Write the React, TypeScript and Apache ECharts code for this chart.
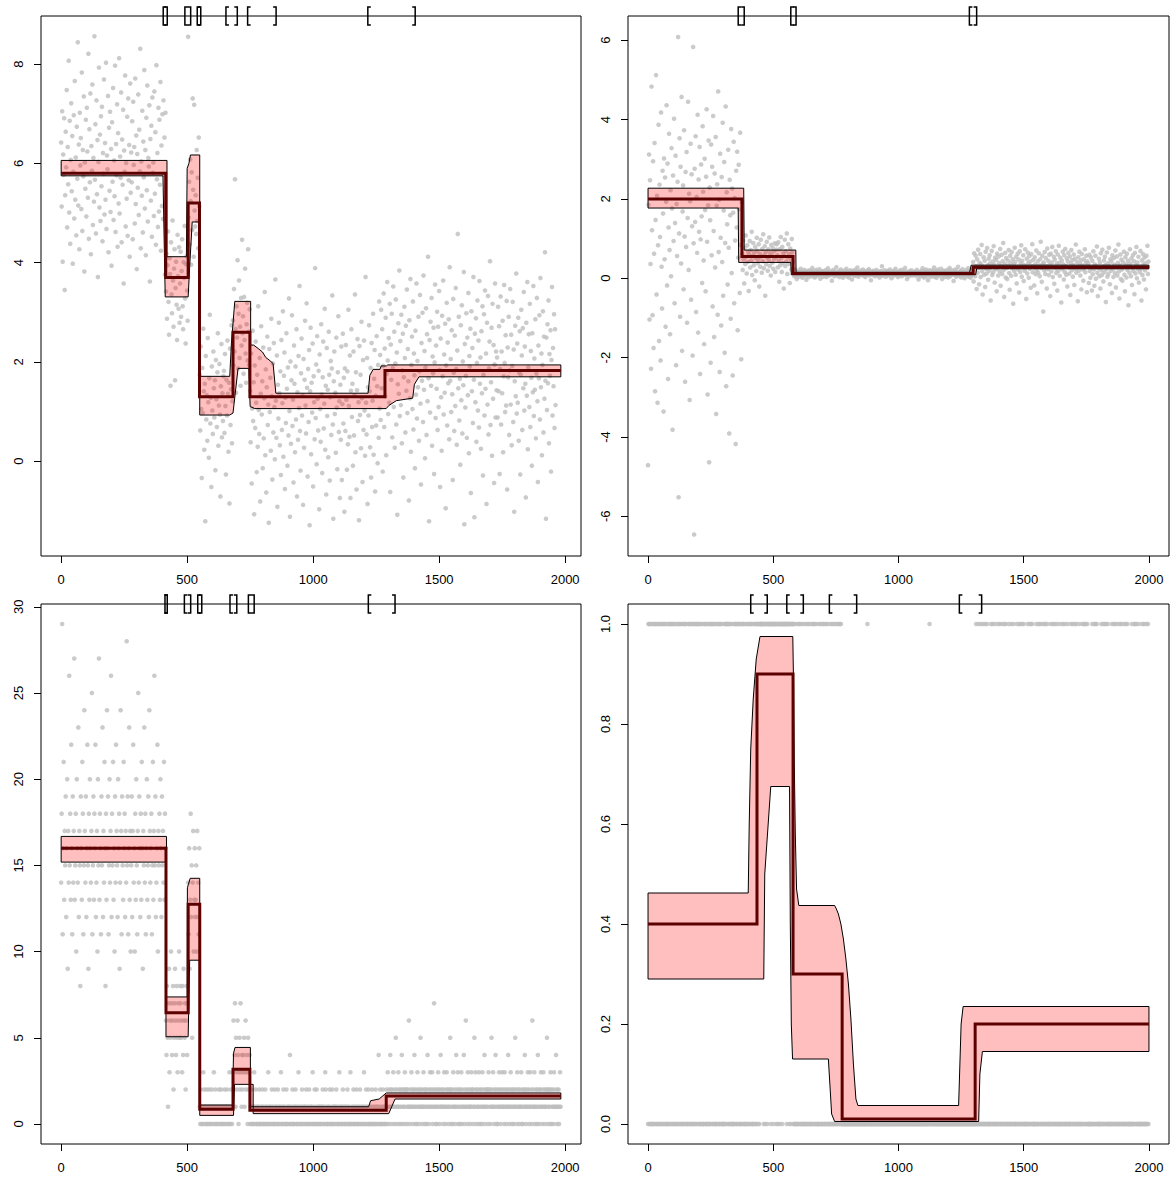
import React, { useEffect, useRef } from "react";
import * as echarts from "echarts";

// ---------- panel 1: gaussian mean changes ----------
const TL_STEP = 2;
const TL_OBS = [
  // 0 – 414
  6.42, 5.13, 7.05, 4.02, 6.18, 5.77, 6.91, 3.45, 5.36, 6.64,
  5.92, 7.48, 4.71, 6.33, 5.58, 8.07, 5.01, 6.86, 4.38, 6.07,
  7.21, 5.44, 6.55, 3.98, 5.83, 6.97, 4.89, 7.66, 5.27, 6.12,
  4.55, 6.74, 5.69, 8.44, 5.15, 6.38, 4.27, 7.02, 5.96, 6.51,
  5.08, 7.83, 4.64, 6.27, 5.74, 7.35, 3.82, 6.02, 5.49, 6.88,
  4.93, 7.12, 6.24, 5.31, 8.21, 4.48, 6.69, 5.62, 7.41, 4.17,
  6.35, 5.85, 7.59, 4.76, 6.11, 5.23, 8.56, 5.67, 6.79, 4.59,
  7.27, 5.38, 6.47, 3.71, 6.03, 7.93, 5.11, 6.58, 4.84, 6.95,
  5.54, 7.14, 4.43, 6.21, 5.79, 7.69, 4.97, 6.41, 5.27, 8.03,
  4.68, 6.16, 5.88, 7.36, 4.21, 6.72, 5.45, 7.04, 5.02, 6.29,
  3.94, 6.83, 5.63, 7.52, 4.86, 6.06, 5.34, 7.97, 4.62, 6.39,
  5.76, 7.19, 4.32, 6.61, 5.19, 8.12, 4.99, 6.14, 5.71, 7.43,
  4.41, 6.48, 5.57, 7.08, 3.58, 6.26, 5.83, 7.77, 4.73, 6.01,
  5.29, 6.94, 4.54, 7.31, 5.66, 6.37, 4.12, 7.61, 5.41, 6.22,
  5.62, 6.85, 4.47, 7.24, 5.97, 6.33, 4.79, 7.71, 5.18, 6.56,
  3.87, 6.19, 5.51, 7.39, 4.96, 6.68, 5.84, 8.31, 4.29, 6.04,
  5.35, 7.06, 4.61, 6.44, 5.72, 7.88, 5.09, 6.27, 4.15, 6.92,
  5.46, 7.57, 4.83, 6.11, 5.94, 7.17, 3.62, 6.49, 5.25, 6.76,
  4.52, 7.33, 5.81, 6.02, 4.94, 7.45, 5.39, 6.63, 4.36, 7.98,
  5.68, 6.21, 4.72, 7.12, 5.03, 6.88, 5.57, 7.64, 4.24, 6.36,
  5.14, 6.99, 4.88, 7.27, 5.77, 6.52, 3.76, 7.02,
  // 416 – 502
  3.42, 4.18, 2.87, 3.95, 4.63, 3.21, 2.55, 4.09, 3.77, 1.52,
  4.41, 3.36, 2.98, 4.85, 3.64, 2.71, 3.88, 4.27, 1.63, 3.49,
  4.02, 3.15, 2.44, 4.56, 3.73, 3.07, 4.31, 2.79,
  3.58, 4.22, 2.91, 3.83, 4.47, 3.12, 2.66, 4.01, 3.69, 4.74,
  3.28, 2.37, 3.97, 4.13, 3.44, 2.83,
  // 504 – 548
  8.55, 4.91, 5.63, 4.37, 6.08, 5.24, 3.96, 5.82, 4.66, 7.31,
  5.47, 4.12, 7.18, 5.05, 4.73, 5.36, 4.58, 6.27, 4.84, 5.71,
  4.29, 6.52, 5.13,
  // 550 – 680
  1.74, 0.62, 2.31, 1.05, -0.34, 1.88, 0.97, 2.67, 1.41, 0.23,
  1.56, -1.21, 2.12, 0.84, 1.33, 0.41, 2.48, 1.19, 0.07, 1.67,
  2.95, 0.76, 1.28, -0.52, 1.91, 1.02, 0.55, 2.21, 1.47, 0.88,
  1.63, -0.18, 2.04, 1.25, 0.69, 1.79, 2.58, 0.31, 1.12, 1.96,
  0.94, -0.71, 1.51, 2.36, 0.48, 1.37, 0.81, 1.71,
  1.82, 0.57, 2.16, 1.11, -0.27, 1.64, 0.92, 2.43, 1.36, 0.19,
  1.58, -0.85, 2.27, 0.73, 1.45, 2.74, 0.36, 1.21,
  // 682 – 748
  2.84, 1.93, 3.47, 2.21, 5.68, 2.66, 1.38, 3.12, 2.49, 4.05,
  1.87, 2.97, 3.64, 2.08, 2.71, 1.52, 3.29, 2.33, 4.46, 2.58,
  2.92, 1.76, 3.31, 2.44, 3.88, 2.17, 1.58, 2.76, 3.19, 2.03,
  4.27, 2.61, 1.94, 3.06,
  // 750 – 1284
  1.42, 0.38, 2.17, -0.45, 1.06, 2.63, 0.81, 1.59, -1.07, 1.93,
  0.67, 2.41, 1.18, -0.22, 1.74, 0.29, 3.12, 1.03, 0.55, 2.08,
  -0.81, 1.36, 2.72, 0.94, 1.61, -0.14, 2.29, 0.46, 1.27, 3.41,
  0.12, 1.85, -0.63, 1.49, 2.51, 0.73, 1.14, -1.24, 2.26, 0.99,
  1.68, 0.21, 2.87, 1.31, -0.37, 1.97, 0.58, 2.38, 1.09, 0.04,
  3.66, 1.22, 0.47, 2.13, -0.92, 1.54, 0.86, 2.79, 1.37, 0.32,
  1.81, -0.28, 2.44, 0.63, 1.17, 3.02, 0.09, 1.72, 2.19, -0.56,
  1.28, 0.77, 2.58, 1.46, -0.09, 1.89, 0.52, 3.28, 1.01, -1.12,
  2.01, 0.35, 1.63, 2.94, 0.71, 1.24, -0.43, 2.33, 1.56, 0.18,
  1.91, 0.84, 2.66, -0.71, 1.39, 0.43, 2.12, 1.07, 3.53, 0.61,
  -0.19, 1.77, 2.47, 0.92, 1.33, -0.88, 2.06, 0.27, 1.64, 2.83,
  1.12, 0.56, 3.18, 1.48, -0.31, 1.86, 0.79, 2.24, -1.29, 1.41,
  2.69, 0.14, 1.58, 0.98, 2.37, -0.51, 1.71, 1.19, 0.44, 3.89,
  0.87, 1.95, -0.06, 2.52, 1.26, 0.62, 1.82, -0.97, 2.15, 1.05,
  0.39, 2.76, 1.34, -0.24, 1.69, 2.41, 0.66, 1.16, 3.07, 0.23,
  1.52, -0.67, 2.28, 0.91, 1.44, 0.08, 2.61, 1.74, -0.39, 1.29,
  2.02, 0.53, 1.87, 3.34, 0.74, -1.16, 1.61, 2.21, 0.95, 1.38,
  0.17, 2.49, 1.08, -0.16, 1.79, 2.92, 0.59, 1.21, -0.74,
  1.54, 0.43, 2.31, -0.38, 1.15, 2.57, 0.76, 1.68, -1.02, 1.87,
  0.61, 2.34, 1.24, -0.17, 1.81, 0.34, 3.05, 1.11, 0.49, 2.13,
  -0.74, 1.42, 2.66, 0.89, 1.56, -0.09, 2.21, 0.52, 1.33, 3.36,
  0.18, 1.79, -0.57, 1.43, 2.46, 0.81, 1.19, -1.19, 2.32, 0.93,
  1.74, 0.26, 2.81, 1.27, -0.42, 2.04, 0.63, 2.43, 1.02, 0.11,
  3.71, 1.18, 0.54, 2.08, -0.86, 1.49, 0.92, 2.74, 1.41, 0.28,
  1.88, -0.33, 2.38, 0.69, 1.22, 2.97, 0.13, 1.66, 2.24, -0.61,
  1.32, 0.72, 2.52, 1.51, -0.04, 1.94, 0.47, 3.22, 1.06,
  // 1286 – 1982
  2.14, 0.83, 3.05, 1.47, 2.66, -0.21, 1.92, 3.38, 0.69, 2.27,
  1.31, 2.89, 0.12, 1.76, 3.61, 2.03, 0.95, 2.48, 1.18, 3.17,
  -0.62, 2.35, 1.64, 2.97, 0.48, 1.88, 3.52, 1.09, 2.61, 0.27,
  1.97, 3.26, 0.74, 2.19, -1.08, 1.55, 2.78, 1.36, 3.84, 0.91,
  2.42, 1.13, 2.95, 0.36, 1.83, 2.57, -0.33, 1.69, 3.11, 2.08,
  0.58, 2.73, 1.42, 3.46, 0.97, 2.26, 1.61, -0.79, 2.84, 1.27,
  3.67, 0.19, 1.94, 2.51, 1.05, 3.22, 0.64, 2.17, 1.73, -0.14,
  2.63, 1.34, 3.58, 0.86, 2.02, 1.49, 2.91, 0.41, 1.81, 3.35,
  1.16, -0.47, 2.38, 1.62, 2.99, 0.79, 3.74, 1.44, 2.22, 0.06,
  1.89, 3.08, 0.53, 2.56, 1.21, 4.12, 1.67, -1.21, 2.44, 0.98,
  2.81, 1.52, 3.29, 0.31, 2.11, 1.77, 2.69, -0.26, 1.99, 3.56,
  0.87, 2.33, 1.46, 3.01, 0.63, 2.71, 1.09, 3.43, 1.84, -0.52,
  2.47, 1.29, 0.21, 2.93, 1.71, 3.64, 0.94, 2.15, 1.38, 2.77,
  -0.95, 1.93, 3.19, 0.72, 2.39, 1.57, 2.86, 0.44, 3.91, 1.62,
  2.06, 0.99, 2.64, 1.35, -0.38, 3.27, 1.78, 0.61, 2.53, 1.11,
  3.49, 1.86, 0.33, 2.23, 4.58, 1.47, 2.91, 0.82, 1.66, -0.07,
  2.74, 1.23, 3.14, 0.56, 2.01, 1.53, 3.81, -1.27, 2.36, 1.08,
  1.72, 2.98, 0.47, 2.49, 1.33, 3.39, 0.16, 2.12, 1.91, 2.67,
  -0.64, 3.02, 1.41, 2.28, 0.77, 3.71, 1.64, -1.13, 2.57, 1.19,
  2.88, 0.39, 1.98, 3.24, 1.02, 2.43, 0.68, 3.63, 1.56, 2.09,
  0.25, 2.62, 1.37, 3.12, -0.29, 1.74, 2.96, 0.92, 3.44, 1.46,
  2.17, -0.86, 2.79, 1.14, 3.33, 0.54, 1.87, 2.41, 4.03, 0.73,
  1.59, 2.69, 0.11, 3.17, 1.26, 2.34, -0.44, 1.95, 3.58, 0.88,
  2.21, 1.43,
  2.09, 0.88, 3.11, 1.41, 2.72, -0.26, 1.86, 3.32, 0.74, 2.21,
  1.37, 2.83, 0.18, 1.71, 3.55, 1.98, 0.99, 2.54, 1.12, 3.23,
  -0.57, 2.29, 1.69, 2.91, 0.53, 1.83, 3.47, 1.14, 2.55, 0.32,
  1.92, 3.21, 0.79, 2.25, -1.02, 1.61, 2.73, 1.31, 3.78, 0.96,
  2.37, 1.18, 2.89, 0.41, 1.78, 2.62, -0.27, 1.74, 3.05, 2.13,
  0.63, 2.68, 1.47, 3.41, 1.02, 2.31, 1.56, -0.73, 2.79, 1.32,
  3.61, 0.24, 1.89, 2.56, 1.09, 3.17, 0.69, 2.22, 1.68, -0.09,
  2.58, 1.39, 3.53, 0.91, 2.07, 1.44, 2.86, 0.46, 1.76, 3.29,
  1.21, -0.42, 2.33, 1.67, 2.94, 0.84, 3.69, 1.49, 2.17, 0.12,
  1.94, 3.02, 0.58, 2.51, 1.26, 4.21, 1.62, -1.16, 2.49, 1.03,
  2.76, 1.57, 3.24, 0.36, 2.16, 1.72, 2.64, -0.21, 2.04, 3.51,
  0.92, 2.28, 1.51, 2.96, 0.67, 2.66, 1.13,
];
const TL_BREAKS = [0, 415, 504, 549, 682, 749, 1285, 1983];
const TL_LEVELS = [5.8, 3.7, 5.2, 1.3, 2.6, 1.3, 1.83];
const TL_UPPER = [
  [0, 6.06], [420, 6.06], [420, 4.12], [497, 4.12], [500, 5.9], [507, 6.0], [513, 6.17],
  [550, 6.17], [550, 1.71], [669, 1.71], [676, 2.4], [689, 3.22], [752, 3.22], [752, 2.34],
  [764, 2.34], [782, 2.27], [799, 2.2], [812, 2.09], [825, 2.04], [841, 1.97], [852, 1.37],
  [1218, 1.37], [1225, 1.73], [1238, 1.85], [1265, 1.85], [1270, 1.92], [1291, 1.92],
  [1296, 1.94], [1983, 1.94],
];
const TL_LOWER = [
  [0, 5.75], [404, 5.75], [413, 3.31], [504, 3.31], [510, 3.92], [520, 4.82], [550, 4.82],
  [550, 0.93], [669, 0.93], [682, 0.97], [702, 1.87], [745, 1.87], [750, 1.1], [768, 1.06],
  [1290, 1.06], [1300, 1.12], [1330, 1.22], [1395, 1.27], [1402, 1.55], [1420, 1.7], [1983, 1.7],
];
const TL_CP = [[405, 421], [491, 514], [540, 554], [654, 699], [740, 853], [1217, 1405]];

// ---------- panel 2: variance changes ----------
const TR_STEP = 2;
const TR_OBS = [
  // 0 – 374
  -4.71, 1.85, 3.12, -1.04, 2.47, 0.36, -2.28, 4.83, 1.21, -0.93,
  2.95, -1.76, 0.62, 3.41, -2.85, 1.47, 5.12, -0.41, 2.08, -3.14,
  0.83, 3.87, -1.58, 2.36, 1.04, -2.07, 4.18, 0.29, -0.76, 2.71,
  1.63, -3.36, 3.02, 0.48, 2.54, -1.22, 1.93, 4.36, -0.18, 2.89,
  -2.54, 1.28, 3.64, 0.71, -1.41, 2.22, 0.05, 3.28, 1.76, -3.82,
  2.59, 0.94, 4.02, -0.63, 1.39, 3.09, -2.19, 1.87, 0.56, 2.43,
  6.08, -5.52, 1.13, 3.53, -0.97, 2.81, 0.37, 4.57, -1.83, 1.68,
  2.34, -0.28, 3.73, 1.05, -2.61, 2.68, 0.79, 3.18, -1.12, 1.52,
  4.45, 0.21, 2.13, -3.07, 1.94, 3.39, -0.54, 2.62, 1.31, -1.95,
  5.83, 0.88, -6.46, 2.76, 1.42, 3.58, -0.85, 2.05, 0.64, 4.12,
  -1.37, 2.49, 1.17, 3.31, -2.41, 0.98, 2.87, 1.56, -0.12, 3.83,
  2.18, 0.45, -1.66, 3.01, 1.72, -0.33, 2.56, 4.26, 0.92, -2.93,
  1.84, 3.47, -4.64, 2.29,
  1.46, -2.13, 3.37, 0.58, 2.81, -0.71, 4.09, 1.19, -1.48, 2.64,
  0.27, 3.56, -3.42, 1.83, 2.37, -0.92, 4.71, 0.66, 1.98, -2.36,
  3.14, 1.02, -1.19, 2.55, 0.41, 3.92, -0.44, 1.71, 2.93, -1.88,
  0.89, 4.33, -2.72, 2.17, 1.36, -0.16, 3.24, 0.77, -3.91, 2.48,
  1.59, -1.02, 3.76, 0.13, 2.26, -2.45, 1.65, 3.44, -0.63, 2.02,
  0.95, -4.18, 2.71, 1.28, 3.19, -1.31, 0.52, 2.86, 1.74, -0.37,
  3.67, 0.84, -2.04, 1.91,
  // 376 – 578
  0.62, 0.21, 0.95, 0.48, -0.13, 0.77, 0.36, 1.08, 0.54, 0.12,
  0.83, 0.41, 0.67, -0.32, 0.59, 0.94, 0.27, 0.71, 0.45, 1.17,
  0.08, 0.56, 0.89, 0.33, 0.64, -0.05, 0.79, 0.51, 0.18, 1.02,
  0.69, 0.38, 0.47, 0.86, -0.21, 0.61, 0.29, 0.97, 0.55, 0.14,
  0.74, 0.43, 1.11, 0.25, 0.58, 0.81, -0.44, 0.66, 0.35, 0.92,
  0.52, 0.19, 0.73, 0.46, 1.03, 0.31, 0.63, 0.07, 0.84, 0.57,
  0.39, 0.76, 0.24, 0.68, 0.49, 0.88, 0.16, 0.53, 0.72, 0.86,
  0.58, 0.27, 0.91, 0.44, -0.09, 0.73, 0.33, 1.04, 0.51, 0.16,
  0.79, 0.38, 0.63, -0.26, 0.56, 0.97, 0.31, 0.68, 0.42, 1.13,
  0.11, 0.53, 0.86, 0.36, 0.61, -0.12, 0.75, 0.47, 0.22, 0.99,
  0.65, 0.41,
  // 580 – 1296
  0.11, 0.18, 0.05, 0.14, 0.22, 0.08, 0.12, -0.02, 0.16, 0.09,
  0.13, 0.04, 0.19, 0.10, 0.15, 0.24, 0.07, 0.12, 0.01, 0.17,
  0.09, 0.14, 0.21, 0.06, 0.11, 0.16, -0.04, 0.13, 0.08, 0.19,
  0.15, 0.03, 0.12, 0.20, 0.10, 0.07, 0.17, 0.13, 0.26, 0.05,
  0.12, 0.18, 0.09, 0.02, 0.14, 0.11, 0.21, 0.06, 0.16, 0.10,
  0.08, 0.13, 0.23, 0.11, -0.01, 0.15, 0.09, 0.18, 0.12, 0.04,
  0.17, 0.10, 0.14, 0.07, 0.20, 0.12, 0.03, 0.16, 0.11, 0.25,
  0.06, 0.13, 0.09, 0.19, 0.14, 0.08, 0.11, -0.06, 0.15, 0.12,
  0.21, 0.10, 0.05, 0.17, 0.13, 0.09, 0.28, 0.11, 0.07, 0.14,
  0.12, 0.18, 0.03, 0.15, 0.10, 0.22, 0.08, 0.13, 0.16, 0.01,
  0.11, 0.07, 0.19, 0.14, 0.09, 0.12, 0.24, 0.05, 0.17, 0.10,
  0.15, 0.02, 0.13, 0.08, 0.20, 0.11, 0.16, -0.03, 0.12, 0.18,
  0.09, 0.14, 0.06, 0.21, 0.10, 0.13, 0.07, 0.17, 0.27, 0.11,
  0.04, 0.16, 0.12, 0.09, 0.19, 0.13, 0.08, 0.15, 0.10, 0.22,
  0.14, 0.06, 0.11, 0.18, 0.03, 0.12, 0.16, 0.09, 0.13, 0.20,
  0.10, 0.23, 0.07, 0.14, 0.11, -0.05, 0.17, 0.12, 0.08, 0.15,
  0.19, 0.09, 0.13, 0.05, 0.16, 0.10, 0.21, 0.12, 0.07, 0.14,
  0.11, 0.17, 0.02, 0.13, 0.09, 0.18, 0.12, 0.30, 0.06, 0.15,
  0.08, 0.12, 0.20, 0.10, 0.14, 0.04, 0.16, 0.11, 0.19, 0.09,
  0.13, 0.07, 0.15, 0.22, 0.10, 0.12, 0.00, 0.17, 0.11, 0.14,
  0.06, 0.18, 0.12, 0.09, 0.24, 0.13, 0.08, 0.15, 0.10, 0.03,
  0.16, 0.11, 0.19, 0.07, 0.13, 0.10, 0.21, 0.05, 0.14, 0.12,
  0.09, 0.17, 0.12, 0.26, 0.08, 0.14, 0.11, -0.02, 0.16, 0.10,
  0.13, 0.05, 0.18, 0.12, 0.09, 0.15, 0.20, 0.11, 0.07, 0.14,
  0.12, 0.10, 0.16,
  0.10, 0.17, 0.06, 0.13, 0.21, 0.09, 0.11, -0.03, 0.15, 0.08,
  0.14, 0.05, 0.18, 0.11, 0.16, 0.25, 0.06, 0.13, 0.02, 0.18,
  0.08, 0.15, 0.22, 0.05, 0.12, 0.17, -0.05, 0.12, 0.09, 0.20,
  0.16, 0.04, 0.11, 0.19, 0.09, 0.06, 0.18, 0.14, 0.27, 0.04,
  0.13, 0.19, 0.08, 0.01, 0.15, 0.12, 0.22, 0.07, 0.17, 0.11,
  0.07, 0.14, 0.24, 0.10, -0.02, 0.16, 0.08, 0.19, 0.13, 0.03,
  0.18, 0.09, 0.15, 0.06, 0.21, 0.11, 0.02, 0.17, 0.10, 0.26,
  0.05, 0.14, 0.08, 0.20, 0.13, 0.09, 0.12, -0.07, 0.16, 0.11,
  0.22, 0.09, 0.04, 0.18, 0.12, 0.10, 0.29, 0.12, 0.06, 0.15,
  0.11, 0.19, 0.02, 0.16, 0.09, 0.23, 0.07, 0.14, 0.15, 0.00,
  0.12, 0.06, 0.20, 0.13, 0.08, 0.13, 0.25, 0.04, 0.18, 0.09,
  0.14, 0.01, 0.12, 0.07, 0.21, 0.10,
  // 1298 – 1998
  0.41, -0.08, 0.63, 0.22, 0.05, 0.57, 0.31, -0.27, 0.48, 0.14,
  0.72, 0.26, -0.15, 0.39, 0.61, 0.03, 0.35, 0.84, 0.18, -0.41,
  0.29, 0.53, 0.09, 0.44, -0.22, 0.67, 0.24, 0.12, 0.76, 0.33,
  -0.04, 0.49, 0.19, 0.58, 0.37, -0.56, 0.27, 0.69, 0.08, 0.42,
  0.15, 0.81, 0.34, -0.11, 0.52, 0.23, 0.46, -0.33, 0.62, 0.28,
  0.07, 0.55, 0.38, 0.17, 0.74, -0.19, 0.31, 0.59, 0.11, 0.43,
  0.89, 0.21, -0.47, 0.36, 0.64, 0.02, 0.51, 0.26, -0.02, 0.45,
  0.32, 0.71, 0.13, -0.29, 0.57, 0.39, 0.06, 0.66, 0.25, 0.48,
  -0.64, 0.35, 0.18, 0.77, 0.41, 0.09, 0.54, -0.13, 0.29, 0.62,
  0.22, 0.47, -0.36, 0.68, 0.16, 0.37, 0.83, 0.04, 0.44, 0.27,
  0.58, -0.07, 0.33, 0.19, 0.73, 0.28, -0.52, 0.49, 0.12, 0.65,
  0.38, 0.01, 0.56, 0.24, 0.42, -0.24, 0.61, 0.31, 0.86, 0.15,
  0.46, 0.27, -0.18, 0.53, 0.35, 0.10, 0.70, 0.21, -0.38, 0.43,
  0.14, 0.63, 0.32, 0.05, 0.48, 0.92, 0.26, -0.09, 0.57, 0.36,
  -0.84, 0.40, 0.20, 0.66, 0.11, 0.51, 0.30, -0.26, 0.75, 0.23,
  0.44, 0.08, 0.59, 0.34, -0.45, 0.62, 0.17, 0.40, 0.79, 0.03,
  0.29, 0.54, -0.14, 0.47, 0.25, 0.68, 0.13, 0.37, -0.31, 0.60,
  0.18, 0.82, 0.39, 0.06, 0.52, 0.28, -0.61, 0.45, 0.23, 0.67,
  0.35, -0.03, 0.58, 0.16, 0.74, 0.31, 0.09, 0.50, -0.21, 0.42,
  0.64, 0.27, 0.12, 0.55, -0.42, 0.38, 0.71, 0.20, 0.46, 0.04,
  0.33, 0.60, -0.17, 0.49, 0.24, 0.85, 0.14, 0.41, 0.29, -0.58,
  0.53, 0.19, 0.67, 0.36, 0.07, 0.45, -0.28, 0.61, 0.32, 0.22,
  -0.06, 0.48, 0.26, 0.73, 0.15, 0.39, 0.57, -0.35, 0.43, 0.30,
  0.37, -0.12, 0.59, 0.18, 0.01, 0.53, 0.27, -0.31, 0.44, 0.10,
  0.68, 0.22, -0.19, 0.35, 0.57, -0.01, 0.31, 0.80, 0.14, -0.45,
  0.25, 0.49, 0.05, 0.40, -0.26, 0.63, 0.20, 0.08, 0.72, 0.29,
  -0.08, 0.45, 0.15, 0.54, 0.33, -0.60, 0.23, 0.65, 0.04, 0.38,
  0.11, 0.77, 0.30, -0.15, 0.48, 0.19, 0.42, -0.37, 0.58, 0.24,
  0.03, 0.51, 0.34, 0.13, 0.70, -0.23, 0.27, 0.55, 0.07, 0.39,
  0.85, 0.17, -0.51, 0.32, 0.60, -0.02, 0.47, 0.22, -0.06, 0.41,
  0.28, 0.67, 0.09, -0.33, 0.53, 0.35, 0.02, 0.62, 0.21, 0.44,
  -0.68, 0.31, 0.14, 0.73, 0.37, 0.05, 0.50, -0.17, 0.25, 0.58,
  0.18, 0.43, -0.40, 0.64, 0.12, 0.33, 0.79, 0.00, 0.40, 0.23,
  0.54, -0.11, 0.29, 0.15, 0.69, 0.24, -0.56, 0.45, 0.08, 0.61,
  0.34, -0.03, 0.52, 0.20, 0.38, -0.28, 0.57, 0.27, 0.82, 0.11,
  0.42,
];
const TR_BREAKS = [0, 375, 579, 1298, 2000];
const TR_LEVELS = [2.0, 0.55, 0.12, 0.28];
const TR_UPPER = [
  [0, 2.27], [382, 2.27], [384, 0.71], [590, 0.71], [591, 0.15], [1284, 0.15], [1290, 0.33], [2000, 0.33],
];
const TR_LOWER = [
  [0, 1.77], [360, 1.77], [362, 0.4], [570, 0.4], [572, 0.09], [1308, 0.09], [1312, 0.24], [2000, 0.24],
];
const TR_CP = [[360, 384], [570, 591], [1283, 1312]];

// ---------- panel 3: count data ----------
const BL_STEP = 2;
const BL_OBS = [
  // 0 – 414
  14, 18, 29, 11, 16, 21, 13, 17, 15, 19, 12, 16, 20, 9, 17, 14, 26, 15, 18, 13,
  22, 16, 11, 19, 14, 17, 27, 13, 15, 18, 10, 20, 16, 14, 23, 12, 17, 15, 8, 19,
  16, 13, 21, 18, 11, 15, 24, 17, 14, 19, 12, 16, 22, 15, 9, 18, 13, 20, 16, 14,
  17, 25, 11, 15, 19, 13, 18, 16, 22, 12, 14, 17, 10, 20, 15, 27, 13, 18, 16, 11,
  19, 15, 23, 12, 17, 14, 21, 16, 8, 18, 13, 24, 16, 19, 11, 15, 20, 14, 17, 26,
  12, 18, 15, 21, 13, 16, 10, 19, 14, 22, 17, 15, 12, 20, 16, 18, 9, 14, 24, 17,
  11, 19, 15, 13, 21, 16, 18, 12, 17, 14, 28, 15, 19, 11, 16, 23, 13, 17, 10,
  15, 19, 12, 17, 22, 14, 16, 10, 18, 13, 20, 15, 11, 17, 25, 14, 19, 16, 12, 18,
  13, 21, 16, 9, 17, 15, 23, 14, 18, 11, 16, 20, 13, 15, 19, 12, 24, 17, 14, 16,
  18, 11, 15, 21, 13, 17, 26, 15, 19, 12, 14, 16, 22, 10, 17, 15, 18, 13, 20, 16,
  12, 19, 15, 17, 14, 21, 13, 18, 16,
  // 416 – 502
  6, 4, 8, 5, 1, 7, 9, 3, 6, 5, 10, 7, 4, 6, 8, 2, 5, 7, 9, 6,
  4, 8, 5, 3, 7, 6, 10, 5, 8, 7, 5, 6, 3, 8, 4, 9, 6, 5, 7, 2,
  6, 8, 4, 7,
  // 504 – 548
  14, 11, 16, 9, 13, 18, 12, 15, 5, 14, 17, 10, 13, 16, 12, 13, 15, 10, 17, 12,
  14, 11, 16,
  // 550 – 680
  1, 0, 2, 1, 0, 1, 0, 3, 1, 2, 0, 1, 1, 0, 2, 0, 1, 0, 1, 2,
  1, 0, 0, 1, 2, 1, 0, 1, 3, 0, 1, 2, 0, 1, 0, 1, 1, 0, 2, 1,
  0, 1, 2, 0, 1, 0, 1, 0, 1, 2, 0, 1, 1, 0, 2, 1, 0, 1, 0, 3,
  1, 0, 2, 1, 0, 1,
  // 682 – 748
  3, 6, 2, 4, 7, 1, 5, 3, 2, 6, 4, 0, 3, 5, 2, 7, 3, 1, 4, 2,
  4, 3, 5, 1, 3, 6, 2, 4, 3, 0, 5, 2, 3, 4,
  // 750 – 1288
  0, 1, 2, 0, 1, 0, 0, 1, 3, 1, 0, 2, 1, 0, 0, 1, 1, 0, 2, 0,
  1, 0, 0, 1, 2, 1, 0, 0, 1, 0, 2, 0, 1, 1, 0, 0, 3, 1, 0, 1,
  0, 1, 0, 2, 1, 0, 1, 0, 0, 2, 1, 0, 1, 0, 1, 2, 0, 0, 1, 1,
  0, 3, 1, 0, 0, 1, 2, 1, 0, 0, 1, 0, 2, 0, 1, 0, 1, 1, 0, 4,
  0, 1, 0, 1, 2, 0, 0, 1, 0, 1, 2, 1, 0, 0, 1, 0, 3, 1, 0, 1,
  0, 0, 1, 2, 0, 1, 0, 1, 1, 0, 1, 2, 0, 0, 1, 1, 0, 2, 0, 1,
  0, 1, 1, 0, 3, 0, 1, 0, 2, 0, 1, 0, 2, 1, 0, 0, 1, 1, 0, 1,
  0, 1, 0, 1, 2, 1, 0, 0, 1, 3, 2, 0, 1, 0, 0, 1, 1, 0, 2, 0,
  1, 0, 0, 2, 1, 0, 1, 0, 1, 1, 0, 2, 1, 0, 1, 0, 0, 3, 1, 0,
  1,
  0, 1, 0, 2, 1, 0, 1, 0, 0, 1, 1, 0, 2, 0, 1, 1, 0, 0, 3, 0,
  0, 1, 1, 0, 2, 0, 1, 0, 1, 0, 2, 1, 0, 0, 1, 0, 1, 2, 0, 1,
  0, 0, 1, 1, 0, 3, 0, 1, 0, 2, 1, 0, 1, 0, 2, 0, 0, 1, 1, 0,
  0, 2, 0, 1, 0, 1, 0, 0, 2, 1, 1, 0, 0, 1, 4, 0, 1, 2, 0, 0,
  1, 0, 2, 1, 0, 1, 0, 1, 0,
  // 1290 – 1982
  2, 1, 0, 3, 1, 2, 0, 1, 4, 2, 1, 0, 2, 1, 3, 1, 0, 2, 1, 5,
  0, 2, 1, 1, 3, 0, 2, 1, 2, 0, 1, 4, 2, 0, 1, 2, 1, 3, 0, 2,
  2, 1, 0, 2, 1, 6, 1, 0, 2, 1, 3, 1, 2, 0, 1, 2, 4, 1, 0, 2,
  1, 0, 3, 2, 1, 1, 0, 2, 5, 1, 2, 1, 0, 1, 3, 2, 1, 0, 2, 1,
  0, 2, 4, 1, 1, 0, 2, 3, 1, 2, 1, 3, 0, 2, 1, 7, 1, 2, 0, 1,
  2, 0, 1, 3, 2, 1, 0, 2, 4, 1, 1, 2, 1, 0, 2, 3, 1, 1, 0, 2,
  3, 1, 2, 1, 0, 2, 1, 5, 2, 0, 1, 2, 0, 3, 1, 1, 2, 0, 1, 4,
  2, 1, 3, 0, 2, 1, 0, 2, 1, 3, 0, 2, 1, 1, 4, 0, 2, 1, 6, 1,
  2, 0, 3, 1, 2, 1, 0, 1, 2, 3, 1, 2, 0, 2, 1, 5, 1, 3, 0, 2,
  2, 1, 1, 0, 3, 2, 1, 0, 2, 1, 0, 3, 2, 1, 1, 4, 0, 2, 1, 2,
  1, 2, 0, 3, 2, 1, 2, 0, 1, 5, 2, 1, 3, 1, 0, 2, 1, 4, 2, 0,
  1, 0, 2, 1, 3, 1, 2, 0, 1, 2, 3, 1,
  1, 2, 0, 3, 1, 2, 1, 0, 2, 1, 4, 1, 2, 0, 1, 3, 2, 1, 0, 2,
  1, 0, 2, 1, 5, 1, 2, 0, 3, 1, 2, 1, 0, 2, 1, 1, 3, 0, 2, 1,
  0, 2, 1, 4, 2, 1, 0, 1, 2, 3, 1, 2, 0, 1, 3, 1, 2, 0, 6, 1,
  2, 1, 3, 0, 1, 2, 1, 0, 2, 4, 1, 0, 2, 1, 2, 3, 1, 0, 1, 2,
  3, 1, 0, 2, 1, 1, 2, 5, 0, 2, 1, 2, 1, 0, 3, 2, 0, 1, 2, 1,
  0, 3, 1, 2, 1, 4, 1, 0, 2, 1, 2, 0, 1, 3, 1,
];
const BL_BREAKS = [0, 416, 504, 550, 682, 749, 1290, 1983];
const BL_LEVELS = [16.0, 6.45, 12.75, 0.85, 3.17, 0.8, 1.62];
const BL_UPPER = [
  [0, 16.68], [418, 16.68], [418, 7.37], [500, 7.37], [501, 13.7], [505, 13.9], [512, 14.25],
  [550, 14.25], [550, 1.1], [680, 1.1], [684, 4.1], [690, 4.44], [751, 4.44], [751, 1.0],
  [1220, 1.0], [1228, 1.35], [1262, 1.45], [1290, 1.8], [1983, 1.8],
];
const BL_LOWER = [
  [0, 15.19], [416, 15.19], [416, 5.06], [504, 5.06], [510, 9.5], [550, 9.5], [550, 0.5],
  [684, 0.5], [688, 2.3], [762, 2.3], [762, 0.6], [1300, 0.6], [1325, 1.45], [1983, 1.45],
];
const BL_CP = [[412, 421], [489, 514], [542, 558], [670, 697], [743, 766], [1219, 1325]];

// ---------- panel 4: binary data ----------
const BR_STEP = 2;
const BR_OBS_CODES = [
  // 0 – 434
  "0110010100", "1001101001", "0100110010", "1011001001", "0010110100", "1100100101",
  "0011010010", "1001011000", "0110100101", "0100110011", "1010010100", "0101100010",
  "1001010110", "0110001001", "1010011000", "0100101101", "1001100100", "0011010011",
  "0101001010", "1100100011", "0100110100", "01101001",
  // 436 – 578
  "1101011111", "1110110111", "0111111011", "1101111101", "1011101111", "0111111110",
  "1111011011", "11",
  // 580 – 774
  "0100100010", "0011000100", "1000010010", "0100010001", "0101000100", "0010100001",
  "1000100100", "0100001010", "0010010001", "10010100",
  // 776 – 1304
  "0000000000", "0000000000", "0000000000", "0000000000", "0000000000", "1",
  "0000000000", "0000000000", "0000000000", "0000000000", "0000000000", "0000000000",
  "0000000000", "0000000000", "0000000000", "0000000000", "0000000000", "0000000000",
  "000", "1",
  "0000000000", "0000000000", "0000000000", "0000000000", "0000000000", "0000000000",
  "0000000000", "0000000000", "0000000000",
  // 1306 – 1998
  "0010000100", "0100001000", "1000100000", "0010010000", "1000001001", "0000100010",
  "0100000100", "0010001000", "0001000010", "1000100100", "0000010001", "0100100000",
  "0010000101", "0001000010", "1000100000", "0100010010", "0010000100", "0001001000",
  "1000010000", "0010100001", "0100000100", "0001000110", "0100100000", "0000100010",
  "1001000000", "0010001001", "0100010000", "0001000100", "1000100001", "0010000100",
  "0100100000", "0001000010", "1010000100", "0000100100", "0010010",
];
const BR_BREAKS = [0, 435, 579, 775, 1306, 2000];
const BR_LEVELS = [0.4, 0.9, 0.3, 0.01, 0.2];
const BR_UPPER = [
  [0, 0.462], [400, 0.462], [404, 0.6], [410, 0.75], [420, 0.85], [432, 0.93], [447, 0.975],
  [578, 0.975], [581, 0.88], [584, 0.72], [588, 0.58], [593, 0.47], [602, 0.437], [745, 0.437],
  [752, 0.43], [760, 0.42], [770, 0.4], [780, 0.37], [790, 0.33], [800, 0.28], [810, 0.21],
  [820, 0.12], [830, 0.05], [838, 0.037], [1240, 0.037], [1250, 0.2], [1258, 0.235], [2000, 0.235],
];
const BR_LOWER = [
  [0, 0.29], [462, 0.29], [466, 0.5], [490, 0.675], [565, 0.675], [568, 0.4], [572, 0.2],
  [577, 0.13], [720, 0.13], [726, 0.08], [733, 0.02], [745, 0.005], [1320, 0.005], [1325, 0.1],
  [1335, 0.145], [2000, 0.145],
];
const BR_CP = [[410, 476], [554, 620], [724, 833], [1243, 1332]];

// ---------- axes ----------
const X_TICKS = [0, 500, 1000, 1500, 2000];
const TL_Y_TICKS = [0, 2, 4, 6, 8];
const TR_Y_TICKS = [-6, -4, -2, 0, 2, 4, 6];
const BL_Y_TICKS = [0, 5, 10, 15, 20, 25, 30];
const BR_Y_TICKS = [0, 0.2, 0.4, 0.6, 0.8, 1.0];

const POINT_COLOR = "#BEBEBE";
const BAND_FILL = "rgba(255,0,0,0.25)";
const FIT_COLOR = "#5c0000";
const FONT = "'Liberation Sans', Arial, Helvetica, sans-serif";

type Panel = {
  rect: { left: number; top: number; width: number; height: number };
  xRange: [number, number];
  yRange: [number, number];
  yTicks: number[];
  yDigits: number;
  obs: number[];
  step: number;
  breaks: number[];
  levels: number[];
  upper: number[][];
  lower: number[][];
  cps: number[][];
};

const PANELS: Panel[] = [
  {
    rect: { left: 41, top: 16, width: 540, height: 540 },
    xRange: [-80, 2063], yRange: [-1.91, 8.97], yTicks: TL_Y_TICKS, yDigits: 0,
    obs: TL_OBS, step: TL_STEP, breaks: TL_BREAKS, levels: TL_LEVELS,
    upper: TL_UPPER, lower: TL_LOWER, cps: TL_CP,
  },
  {
    rect: { left: 628, top: 16, width: 541, height: 540 },
    xRange: [-80, 2080], yRange: [-7.0, 6.61], yTicks: TR_Y_TICKS, yDigits: 0,
    obs: TR_OBS, step: TR_STEP, breaks: TR_BREAKS, levels: TR_LEVELS,
    upper: TR_UPPER, lower: TR_LOWER, cps: TR_CP,
  },
  {
    rect: { left: 41, top: 604, width: 540, height: 540 },
    xRange: [-80, 2063], yRange: [-1.16, 30.16], yTicks: BL_Y_TICKS, yDigits: 0,
    obs: BL_OBS, step: BL_STEP, breaks: BL_BREAKS, levels: BL_LEVELS,
    upper: BL_UPPER, lower: BL_LOWER, cps: BL_CP,
  },
  {
    rect: { left: 628, top: 604, width: 541, height: 540 },
    xRange: [-80, 2080], yRange: [-0.04, 1.04], yTicks: BR_Y_TICKS, yDigits: 1,
    obs: BR_OBS_CODES.join("").split("").map(Number), step: BR_STEP,
    breaks: BR_BREAKS, levels: BR_LEVELS, upper: BR_UPPER, lower: BR_LOWER, cps: BR_CP,
  },
];

function buildOption() {
  const grid: any[] = [];
  const xAxis: any[] = [];
  const yAxis: any[] = [];
  const series: any[] = [];

  PANELS.forEach((p, i) => {
    grid.push({ ...p.rect, show: true, borderColor: "#000", borderWidth: 1, backgroundColor: "transparent" });
    const tickStyle = { show: true, length: 7, inside: false, lineStyle: { color: "#000", width: 1 } };
    const labelStyle = { color: "#000", fontSize: 13, fontFamily: FONT };
    xAxis.push({
      gridIndex: i, type: "value", min: p.xRange[0], max: p.xRange[1],
      axisLine: { show: false, onZero: false },
      axisTick: { ...tickStyle, customValues: X_TICKS },
      axisLabel: { ...labelStyle, margin: 17, customValues: X_TICKS, formatter: (v: number) => String(v) },
      splitLine: { show: false },
    });
    yAxis.push({
      gridIndex: i, type: "value", min: p.yRange[0], max: p.yRange[1],
      axisLine: { show: false, onZero: false },
      axisTick: { ...tickStyle, customValues: p.yTicks },
      axisLabel: {
        ...labelStyle, margin: 16, rotate: 90, customValues: p.yTicks,
        formatter: (v: number) => v.toFixed(p.yDigits),
      },
      splitLine: { show: false },
    });

    // observations
    series.push({
      type: "scatter", xAxisIndex: i, yAxisIndex: i, z: 1, silent: true,
      symbol: "circle", symbolSize: 4.6,
      itemStyle: { color: POINT_COLOR },
      data: p.obs.map((v, k) => [k * p.step, v]),
    });

    // credible band
    series.push({
      type: "custom", xAxisIndex: i, yAxisIndex: i, z: 2, silent: true,
      data: [[p.upper[0][0], p.upper[0][1]]],
      renderItem: (_params: any, api: any) => {
        const pts = p.upper.map((q) => api.coord(q)).concat(p.lower.slice().reverse().map((q) => api.coord(q)));
        return {
          type: "polygon",
          shape: { points: pts },
          style: { fill: BAND_FILL, stroke: "#000", lineWidth: 1 },
        };
      },
    });

    // fitted step function
    const fit: number[][] = [];
    p.levels.forEach((lv, k) => {
      fit.push([p.breaks[k], lv], [p.breaks[k + 1], lv]);
    });
    series.push({
      type: "line", xAxisIndex: i, yAxisIndex: i, z: 3, silent: true,
      showSymbol: false, symbol: "none",
      lineStyle: { color: FIT_COLOR, width: 3, join: "miter" },
      data: fit,
    });

    // change-point intervals drawn as brackets on the top border
    series.push({
      type: "custom", xAxisIndex: i, yAxisIndex: i, z: 4, silent: true, clip: false,
      data: p.cps,
      encode: { x: [0, 1] },
      renderItem: (params: any, api: any) => {
        const x1 = api.coord([api.value(0), p.yRange[0]])[0];
        const x2 = api.coord([api.value(1), p.yRange[0]])[0];
        const top = params.coordSys.y;
        const y0 = top - 9;
        const y1 = top + 9;
        const s = 3;
        const style = { stroke: "#000", lineWidth: 1.5, fill: null };
        return {
          type: "group",
          children: [
            { type: "polyline", shape: { points: [[x1 + s, y0], [x1, y0], [x1, y1], [x1 + s, y1]] }, style },
            { type: "polyline", shape: { points: [[x2 - s, y0], [x2, y0], [x2, y1], [x2 - s, y1]] }, style },
          ],
        };
      },
    });
  });

  return { animation: false, backgroundColor: "#fff", grid, xAxis, yAxis, series };
}

export default function App() {
  const ref = useRef<HTMLDivElement>(null);
  useEffect(() => {
    document.body.style.margin = "0";
    if (!ref.current) return;
    const chart = echarts.init(ref.current, undefined, { renderer: "svg" });
    chart.setOption(buildOption());
    return () => chart.dispose();
  }, []);
  return <div ref={ref} style={{ width: 1172, height: 1182 }} />;
}
